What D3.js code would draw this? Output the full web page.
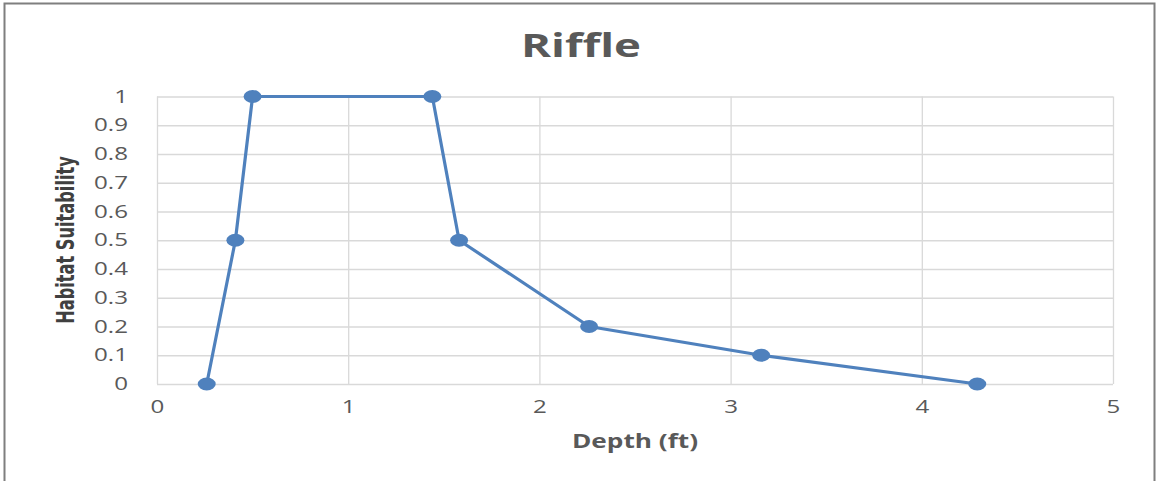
<!DOCTYPE html>
<html><head><meta charset="utf-8">
<script src="https://cdn.jsdelivr.net/npm/d3@7"></script>
<style>body{margin:0;background:#fff;}svg{display:block;}</style>
</head><body>
<script>
const depth = [0.26, 0.41, 0.5, 1.44, 1.58, 2.26, 3.16, 4.29];
const suitability = [0, 0.5, 1, 1, 0.5, 0.2, 0.1, 0];
const xTicks = [0, 1, 2, 3, 4, 5];
const yTicks = [0, 0.1, 0.2, 0.3, 0.4, 0.5, 0.6, 0.7, 0.8, 0.9, 1];
const title = "Riffle";
const xLabel = "Depth (ft)";
const yLabel = "Habitat Suitability";

const W = 1156, H = 481;
const SX = 1.38; // horizontal stretch of the reference picture
const m = {left:157, right:1156-1113, top:96.5, bottom:481-384};
const svg = d3.select("body").append("svg").attr("width", W).attr("height", H);
svg.append("rect").attr("width", W).attr("height", H).attr("fill", "#fff");
// frame
svg.append("path").attr("d", `M4.5,${H} V3.5 H1154.5 V${H}`).attr("fill","none").attr("stroke","#7f7f7f").attr("stroke-width",2);

const x = d3.scaleLinear().domain([0,5]).range([m.left, W-m.right]);
const y = d3.scaleLinear().domain([0,1]).range([H-m.bottom, m.top]);

const g = svg.append("g");
// grid
g.append("g").attr("transform", `translate(0,${y(0)})`)
  .call(d3.axisBottom(x).tickValues(xTicks).tickSize(-(y(0)-y(1))).tickFormat(""))
  .call(s => { s.select(".domain").remove(); s.selectAll("line").attr("stroke","#d9d9d9").attr("stroke-width",1.3); });
g.append("g").attr("transform", `translate(${x(0)},0)`)
  .call(d3.axisLeft(y).tickValues(yTicks).tickSize(-(x(5)-x(0))).tickFormat(""))
  .call(s => { s.select(".domain").remove(); s.selectAll("line").attr("stroke","#d9d9d9").attr("stroke-width",1.3); });

const FONT = "'Open Sans', sans-serif";
// tick labels via axes
const xa = svg.append("g").attr("transform", `translate(0,${y(0)})`)
  .call(d3.axisBottom(x).tickValues(xTicks).tickSize(0).tickPadding(17).tickFormat(d3.format("d")));
xa.select(".domain").remove();
xa.selectAll("text").attr("font-family",FONT).attr("font-size",17.5).attr("fill","#595959")
  .attr("transform", `scale(${SX},1)`);
const ya = svg.append("g").attr("transform", `translate(${x(0)},0)`)
  .call(d3.axisLeft(y).tickValues(yTicks).tickSize(0).tickPadding(29).tickFormat(d => d3.format("")(+d.toFixed(1))));
ya.select(".domain").remove();
ya.selectAll("text").attr("font-family",FONT).attr("font-size",17.5).attr("fill","#595959")
  .attr("x", -29/SX).attr("transform", `scale(${SX},1)`);

// line
const pts = depth.map((d,i) => [d, suitability[i]]);
svg.append("path").datum(pts)
  .attr("d", d3.line().x(d => x(d[0])).y(d => y(d[1])))
  .attr("fill","none").attr("stroke","#4f81bd").attr("stroke-width",3.2).attr("stroke-linejoin","round");
svg.selectAll("ellipse.pt").data(pts).join("ellipse").attr("class","pt")
  .attr("cx", d => x(d[0])).attr("cy", d => y(d[1])).attr("rx",9).attr("ry",6.5).attr("fill","#4f81bd");

// titles
svg.append("text").attr("transform", `translate(581,57) scale(${SX},1)`).attr("text-anchor","middle")
  .attr("font-family",FONT).attr("font-weight","bold").attr("font-size",33).attr("fill","#595959").text(title);
svg.append("text").attr("transform", `translate(${(x(0)+x(5))/2},448) scale(${SX},1)`).attr("text-anchor","middle")
  .attr("font-family",FONT).attr("font-weight","bold").attr("font-size",19).attr("fill","#595959").text(xLabel);
svg.append("text").attr("transform", `translate(74,240) rotate(-90) scale(1,${SX})`).attr("text-anchor","middle")
  .attr("font-family","'Liberation Sans Narrow', 'DejaVu Sans Condensed', sans-serif").attr("font-weight","bold").attr("font-size",18).attr("fill","#404040").text(yLabel);
</script>
</body></html>
